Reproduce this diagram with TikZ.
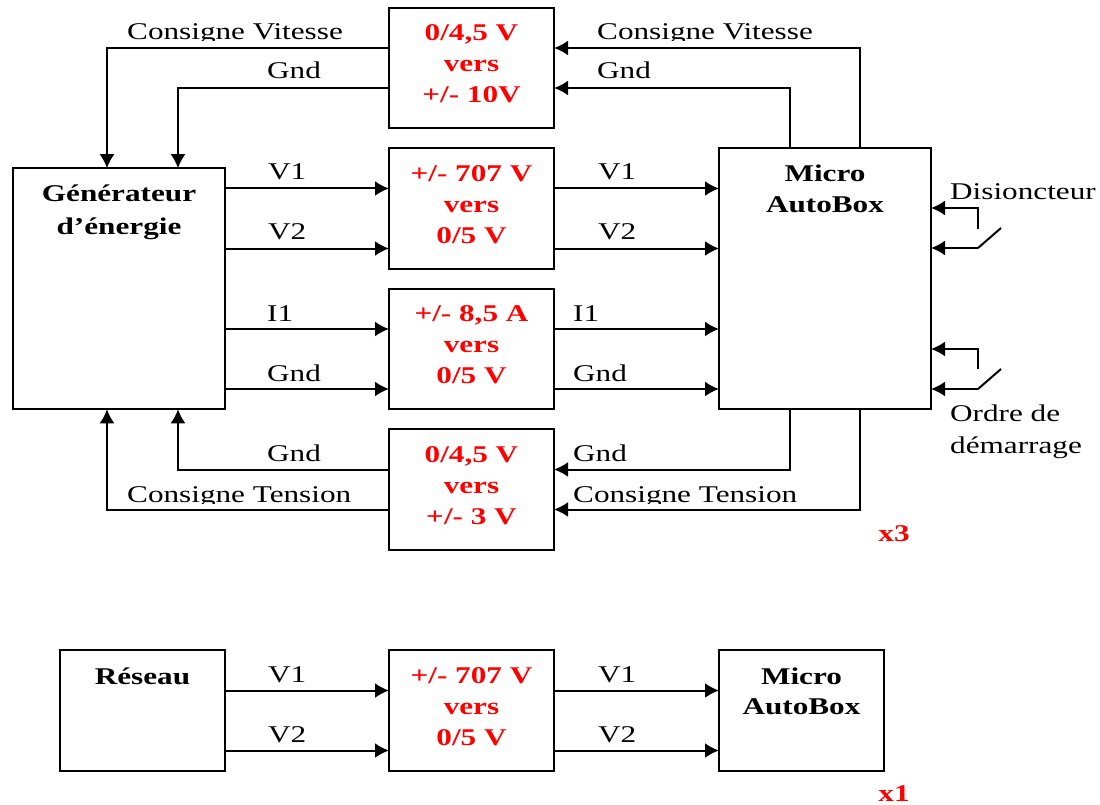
\documentclass[tikz,border=0pt]{standalone}
\usepackage{fontspec}
\setmainfont[FakeStretch=1.3]{Liberation Serif}
\usepackage{tikz}
\usetikzlibrary{arrows.meta, positioning}

\tikzset{
    conv/.style={draw, line width=2pt, outer sep=0pt, minimum width=165pt, minimum height=120.5pt, inner sep=0pt, text depth=8pt, align=center, text=red, font=\fontsize{24}{31}\selectfont\bfseries},
    block/.style={draw, line width=2pt, outer sep=0pt, inner sep=0pt},
    title/.style={inner sep=0pt, align=center, font=\fontsize{24}{32}\selectfont\bfseries},
    sig/.style={inner sep=0pt, anchor=base west, font=\fontsize{24}{31}\selectfont},
    count/.style={inner sep=0pt, text=red, font=\fontsize{24}{31}\selectfont\bfseries},
    wire/.style={line width=2pt, -{Latex[length=14pt,width=15pt]}},
    contact/.style={line width=2pt}
}

\begin{document}
\begin{tikzpicture}[x=1pt,y=-1pt]
    \useasboundingbox (0,0) rectangle (1100,805);

    % converters
    \node[conv] (c1) at (471.5,68) {0/4,5 V\\vers\\+/- 10V};
    \node[conv] (c2) [below=20pt of c1] {+/- 707 V\\vers\\0/5 V};
    \node[conv] (c3) [below=20pt of c2] {+/- 8,5 A\\vers\\0/5 V};
    \node[conv] (c4) [below=20pt of c3] {0/4,5 V\\vers\\+/- 3 V};
    \node[conv] (c5) [below=100.5pt of c4] {+/- 707 V\\vers\\0/5 V};

    \node[block, minimum width=212pt, minimum height=241pt] (gen) [left=164pt of c3.south west, anchor=south east] {};
    \node[block, minimum width=212pt, minimum height=261pt] (mab) [right=165pt of c2.north east, anchor=north west] {};
    \node[block, minimum width=165pt, minimum height=120.5pt] (res) [left=164pt of c5] {};
    \node[block, minimum width=165pt, minimum height=120.5pt] (mab2) [right=165pt of c5] {};

    \node[title, font=\fontsize{24}{33}\selectfont\bfseries] (gent) [below=16pt of gen.north] {Générateur\\d’énergie};
    \node[title, font=\fontsize{24}{31}\selectfont\bfseries] (mabt) [below=16pt of mab.north] {Micro\\AutoBox};
    \node[title] (rest) [below=17pt of res.north] {Réseau};
    \node[title, font=\fontsize{24}{30.5}\selectfont\bfseries] (mab2t) [below=17pt of mab2.north] {Micro\\AutoBox};

    % top and bottom feedback
    \draw[wire] ([yshift=20pt]c1.west) -| ([xshift=-12pt]gen.north);
    \draw[wire] ([yshift=-20pt]c1.west) -| ([xshift=59pt]gen.north);
    \draw[wire] ([xshift=35pt]mab.north) |- ([yshift=20pt]c1.east);
    \draw[wire] ([xshift=-35pt]mab.north) |- ([yshift=-20pt]c1.east);
    \draw[wire] ([yshift=20pt]c4.west) -| ([xshift=59pt]gen.south);
    \draw[wire] ([yshift=-20pt]c4.west) -| ([xshift=-12pt]gen.south);
    \draw[wire] ([xshift=-35pt]mab.south) |- ([yshift=20pt]c4.east);
    \draw[wire] ([xshift=35pt]mab.south) |- ([yshift=-20pt]c4.east);

    % measures
    \foreach \c in {c2,c3} {
        \draw[wire] ([yshift=20pt]\c.west -| gen.east) -- ([yshift=20pt]\c.west);
        \draw[wire] ([yshift=-40pt]\c.west -| gen.east) -- ([yshift=-40pt]\c.west);
        \draw[wire] ([yshift=20pt]\c.east) -- ([yshift=20pt]\c.east -| mab.west);
        \draw[wire] ([yshift=-40pt]\c.east) -- ([yshift=-40pt]\c.east -| mab.west);
    }
    \draw[wire] ([yshift=20pt]res.east) -- ([yshift=20pt]c5.west);
    \draw[wire] ([yshift=-40pt]res.east) -- ([yshift=-40pt]c5.west);
    \draw[wire] ([yshift=20pt]c5.east) -- ([yshift=20pt]mab2.west);
    \draw[wire] ([yshift=-40pt]c5.east) -- ([yshift=-40pt]mab2.west);

    % contacts
    \coordinate (d1) at (978,229);
    \coordinate (d2) at (978,248);
    \coordinate (d3) at (1001,228);
    \coordinate (o1) at (978,369);
    \coordinate (o2) at (978,389);
    \coordinate (o3) at (1001,369);
    \draw[wire] (d1) -- (978,208) -- (mab.east |- 978,208);
    \draw[wire] (d2) -- (mab.east |- d2);
    \draw[contact] (d2) -- (d3);
    \draw[wire] (o1) -- (978,349) -- (mab.east |- 978,349);
    \draw[wire] (o2) -- (mab.east |- o2);
    \draw[contact] (o2) -- (o3);

    % signal names, cut along the wires as printed
    \begin{scope}
        \clip (100,0) rectangle (830,40.5) (100,470) rectangle (830,503);
        \node[sig] (cv1) at (127,40) {Consigne Vitesse};
        \node[sig] (cv2) at (597,40) {Consigne Vitesse};
        \node[sig] (ct1) at (127,502) {Consigne Tension};
        \node[sig] (ct2) at (573,502) {Consigne Tension};
    \end{scope}
    \node[sig] (g1) at (267,79) {Gnd};
    \node[sig] (g2) at (597,79) {Gnd};
    \node[sig] (a1) at (268,180) {V1};
    \node[sig] (a2) at (598,180) {V1};
    \node[sig] (b1) at (268,240) {V2};
    \node[sig] (b2) at (598,240) {V2};
    \node[sig] (i1) at (267,321) {I1};
    \node[sig] (i2) at (573,321) {I1};
    \node[sig] (g3) at (267,381) {Gnd};
    \node[sig] (g4) at (573,381) {Gnd};
    \node[sig] (g5) at (267,461) {Gnd};
    \node[sig] (g6) at (573,461) {Gnd};
    \node[sig] (a3) at (268,682) {V1};
    \node[sig] (a4) at (598,682) {V1};
    \node[sig] (b3) at (268,742) {V2};
    \node[sig] (b4) at (598,742) {V2};

    \node[sig] (dis) at (950,200) {Disioncteur};
    \node[sig] (ord1) at (950,421) {Ordre de};
    \node[sig] (ord2) at (950,453) {démarrage};

    \node[count] (x3) at (894,534) {x3};
    \node[count] (x1) at (894,794) {x1};
\end{tikzpicture}
\end{document}
